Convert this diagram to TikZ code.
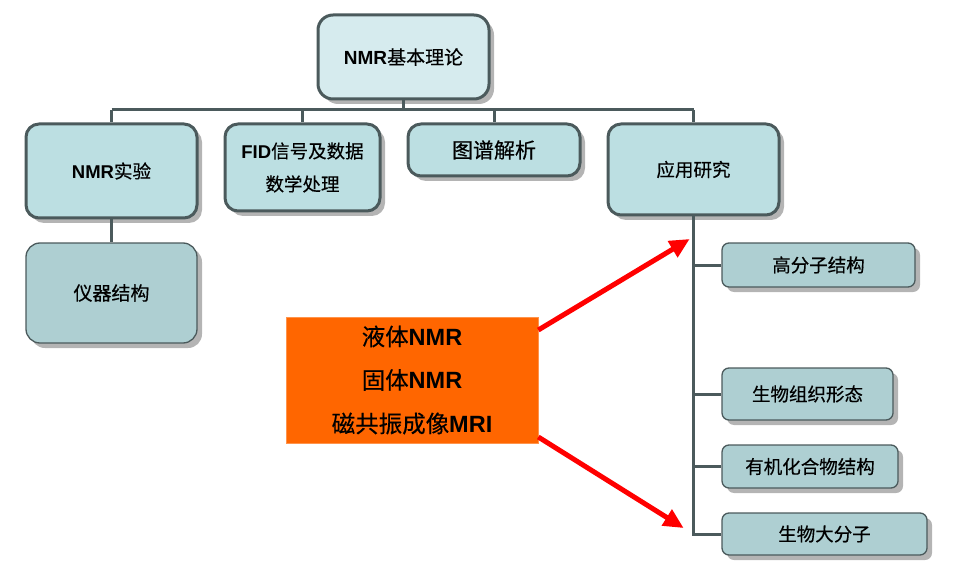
\documentclass[tikz,border=0pt]{standalone}
\usepackage{fontspec}
\setmainfont{Noto Sans CJK SC}[FakeBold=0.4]
\newfontfamily\lat{Liberation Sans}
\usetikzlibrary{shadows,arrows.meta}
\definecolor{bord}{HTML}{4B5A5C}
\definecolor{fillA}{HTML}{D6EBEE}
\definecolor{fillB}{HTML}{BCDFE2}
\definecolor{fillC}{HTML}{AECFD2}
\definecolor{shad}{HTML}{B4B4B4}
\definecolor{orng}{HTML}{FF6600}
\newcommand{\nb}[1]{{\lat\bfseries #1}}
\tikzset{
  box/.style={draw=bord, rectangle, inner sep=0pt, align=center,
    drop shadow={shadow xshift=5pt, shadow yshift=-5pt, fill=shad, opacity=1}},
  lvA/.style={box, line width=3pt, fill=fillA, rounded corners=15pt, font=\fontsize{19}{22}\selectfont},
  lvB/.style={box, line width=3pt, fill=fillB, rounded corners=13pt, font=\fontsize{18.5}{33}\selectfont},
  lvC/.style={box, line width=1.3pt, fill=fillC, rounded corners=14pt, font=\fontsize{19}{22}\selectfont},
  lvD/.style={box, line width=1.3pt, fill=fillC, rounded corners=7pt, font=\fontsize{18.5}{22}\selectfont},
  conn/.style={draw=bord, line width=3pt},
  redarr/.style={draw=red, line width=5pt, -{Triangle[length=20pt,width=18pt]}, shorten >=-2pt}
}
\begin{document}
\begin{tikzpicture}[x=1pt,y=-1pt]
\useasboundingbox (0,0) rectangle (957,569);
\node[lvA, minimum width=171pt, minimum height=84pt] (top) at (403.5,57) {\nb{NMR}基本理论};
\node[lvB, minimum width=171pt, minimum height=94pt] (exp) at (111.5,171) {\nb{NMR}实验};
\node[lvB, minimum width=155pt, minimum height=87pt] (fid) at (302.5,167.5) {\nb{FID}信号及数据\\数学处理};
\node[lvB, minimum width=172pt, minimum height=52pt, font=\fontsize{21}{24}\selectfont] (spec) at (494,150) {图谱解析};
\node[lvB, minimum width=171pt, minimum height=91pt] (app) at (693.5,169.5) {应用研究};
\node[lvC, minimum width=171pt, minimum height=100pt] (inst) at (111.5,293) {仪器结构};
\node[lvD, minimum width=193pt, minimum height=44pt] (poly) at (818.5,265) {高分子结构};
\node[lvD, minimum width=171pt, minimum height=52pt] (tiss) at (807.5,394) {生物组织形态};
\node[lvD, minimum width=176pt, minimum height=43pt] (org) at (810,466.5) {有机化合物结构};
\node[lvD, minimum width=205pt, minimum height=42pt] (bio) at (824.5,534) {生物大分子};
\node[fill=orng, draw=orng!70!white, line width=0.6pt, minimum width=252pt, minimum height=126pt, inner sep=0pt,
  align=center, font=\fontsize{23.5}{43.5}\selectfont] (nmr) at (412,380) {液体\nb{NMR}\\固体\nb{NMR}\\磁共振成像\nb{MRI}};
\coordinate (bus) at (403.5,110);
\draw[conn] (top.south) -- (top.south |- bus);
\draw[conn] (exp.north |- bus) -- (app.north |- bus);
\draw[conn] (exp.north |- bus) -- (exp.north);
\draw[conn] (fid.north |- bus) -- (fid.north);
\draw[conn] (spec.north |- bus) -- (spec.north);
\draw[conn] (app.north |- bus) -- (app.north);
\draw[conn] (exp.south) -- (inst.north);
\draw[conn] (app.south) |- (bio.west);
\draw[conn] (app.south |- poly.west) -- (poly.west);
\draw[conn] (app.south |- tiss.west) -- (tiss.west);
\draw[conn] (app.south |- org.west) -- (org.west);
\coordinate (t1) at (688,240);
\coordinate (t2) at (682,527);
\draw[redarr] (nmr.east |- 0,330) -- (t1);
\draw[redarr] (nmr.east |- 0,437) -- (t2);
\end{tikzpicture}
\end{document}
